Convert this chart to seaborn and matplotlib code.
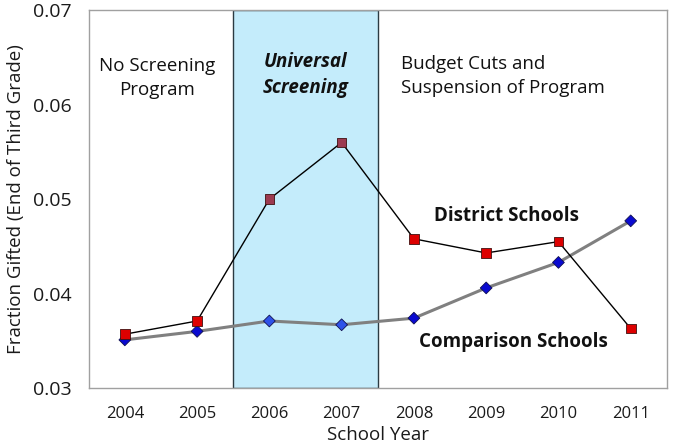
import matplotlib
matplotlib.use('Agg')
import matplotlib.pyplot as plt
import seaborn as sns
import pandas as pd
import numpy as np

# Data
years = ['2004', '2005', '2006', '2007', '2008', '2009', '2010', '2011']
district = [0.0357, 0.0371, 0.0500, 0.0560, 0.0458, 0.0443, 0.0455, 0.0363]
comparison = [0.0351, 0.0360, 0.0371, 0.0367, 0.0374, 0.0406, 0.0433, 0.0477]
screening_years = ['2006', '2007']
y_ticks = [0.03, 0.04, 0.05, 0.06, 0.07]

df = pd.DataFrame({'year': years, 'district': district, 'comparison': comparison})
df['x'] = np.arange(len(years))
df['in_program'] = df['year'].isin(screening_years)

sns.set_style('white')
plt.rcParams['font.family'] = ['Open Sans', 'DejaVu Sans']

fig, ax = plt.subplots(figsize=(6.77, 4.44), dpi=100)
fig.subplots_adjust(left=0.131, right=0.985, top=0.977, bottom=0.126)

# Universal screening period shading
prog_x = df.loc[df['in_program'], 'x']
ax.axvspan(prog_x.min() - 0.5, prog_x.max() + 0.5, facecolor='#c4ecfb',
           edgecolor='#2b3a42', linewidth=1.0, zorder=0)

# lines
sns.lineplot(data=df, x='x', y='comparison', color='#808080', linewidth=2.2, ax=ax, zorder=2)
sns.lineplot(data=df, x='x', y='district', color='black', linewidth=1.0, ax=ax, zorder=3)

# markers (darker tint inside shaded period as in the original)
red_cols = np.where(df['in_program'], '#9c3a50', '#dd0000')
blue_cols = np.where(df['in_program'], '#2f52e8', '#0a0ad0')
ax.scatter(df['x'], df['comparison'], marker='D', s=36, c=blue_cols,
           edgecolors='#101050', linewidths=0.6, zorder=4)
ax.scatter(df['x'], df['district'], marker='s', s=48, c=red_cols,
           edgecolors='#401010', linewidths=0.6, zorder=5)

ax.set_xlim(-0.5, len(years) - 0.5)
ax.set_ylim(0.03, 0.07)
ax.set_xticks(df['x'])
ax.set_xticklabels(years)
ax.set_xticks(np.arange(-0.5, len(years)), minor=True)
ax.set_yticks(y_ticks)
ax.set_yticklabels(['%.2f' % v for v in y_ticks])
ax.tick_params(axis='x', which='major', length=0, labelsize=12, pad=13, colors='#1a1a1a')
ax.tick_params(axis='x', which='minor', length=5, color='#888888', direction='out')
ax.tick_params(axis='y', length=6, direction='out', labelsize=14, pad=6, colors='#1a1a1a')
ax.tick_params(axis='y', color='#888888')
ax.set_xlabel('School Year', fontsize=13.5, labelpad=3, color='#1a1a1a')
ax.set_ylabel('Fraction Gifted (End of Third Grade)', fontsize=13.5, labelpad=6, color='#1a1a1a')
for s in ax.spines.values():
    s.set_color('#a0a0a0')
    s.set_linewidth(1.0)

# annotations
ax.text(0.45, 0.0628, 'No Screening\nProgram', ha='center', va='center',
        fontsize=13.5, linespacing=1.45, color='#111111')
ax.text(2.5, 0.0631, 'Universal\nScreening', ha='center', va='center',
        fontsize=13.5, fontweight='bold', fontstyle='italic', linespacing=1.4, color='#111111')
ax.text(3.82, 0.0630, 'Budget Cuts and\nSuspension of Program', ha='left', va='center',
        fontsize=13.5, linespacing=1.45, color='#111111')
ax.text(5.28, 0.0482, 'District Schools', ha='center', va='center',
        fontsize=13.5, fontweight='bold', color='#111111')
ax.text(5.38, 0.0349, 'Comparison Schools', ha='center', va='center',
        fontsize=13.5, fontweight='bold', color='#111111')

fig.savefig('out.png', dpi=100)
plt.close(fig)
